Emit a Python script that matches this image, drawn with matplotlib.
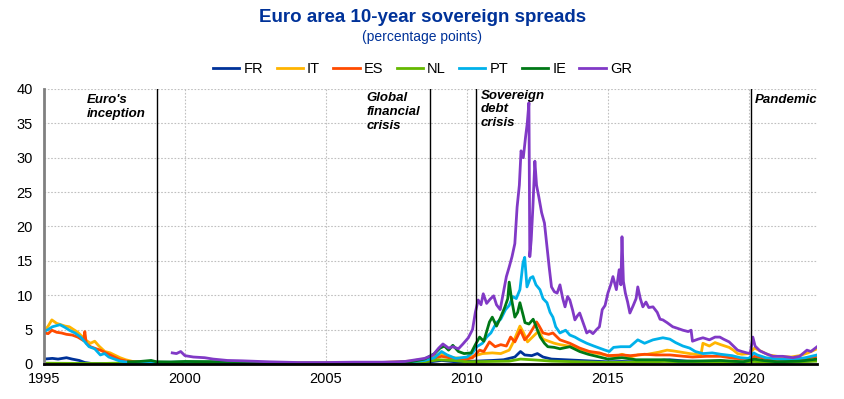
import matplotlib
matplotlib.use("Agg")
import numpy as np
import matplotlib.pyplot as plt

plt.rcParams['font.family'] = ['Liberation Sans', 'DejaVu Sans']

# Data (decimal years, percentage points)

fr_x = [1995.0, 1995.3, 1995.5, 1995.8, 1996.0, 1996.25, 1996.45, 1996.7, 1997.0, 1998.0, 2000.0, 2005.0,
        2007.0, 2008.5, 2009.1, 2009.6, 2010.3, 2010.9, 2011.3, 2011.7, 2011.9, 2012.05, 2012.3, 2012.5,
        2012.7, 2013.0, 2013.5, 2014.0, 2014.5, 2015.0, 2015.5, 2016.0, 2016.5, 2017.2, 2017.8, 2018.5,
        2019.0, 2019.7, 2020.2, 2020.6, 2021.5, 2022.42]
fr_y = [0.7, 0.8, 0.7, 0.9, 0.7, 0.5, 0.2, 0.05, 0.05, 0.05, 0.05, 0.02,
        0.05, 0.2, 0.5, 0.3, 0.4, 0.5, 0.6, 1.0, 1.8, 1.3, 1.2, 1.5,
        1.0, 0.7, 0.6, 0.5, 0.4, 0.3, 0.35, 0.3, 0.4, 0.6, 0.4, 0.35,
        0.4, 0.25, 0.45, 0.3, 0.3, 0.5]

it_x = [1995.0, 1995.15, 1995.28, 1995.45, 1995.6, 1995.75, 1995.9, 1996.05, 1996.2, 1996.35, 1996.5,
        1996.65, 1996.8, 1996.95, 1997.16, 1997.35, 1997.55, 1997.7, 1997.9, 1998.2, 1999.0, 2000.0,
        2001.0, 2002.0, 2003.0, 2004.0, 2005.0, 2006.0, 2007.0, 2008.0, 2008.6, 2009.1, 2009.5, 2009.9,
        2010.3, 2010.55, 2010.9, 2011.2, 2011.5, 2011.65, 2011.88, 2012.0, 2012.15, 2012.35, 2012.55,
        2012.7, 2012.9, 2013.1, 2013.3, 2013.6, 2013.9, 2014.2, 2014.5, 2014.8, 2015.0, 2015.3, 2015.5,
        2015.8, 2016.06, 2016.4, 2016.8, 2017.1, 2017.3, 2017.6, 2017.9, 2018.3, 2018.37, 2018.6, 2018.8,
        2019.0, 2019.3, 2019.45, 2019.6, 2019.75, 2020.0, 2020.2, 2020.4, 2020.7, 2021.0, 2021.5, 2021.8,
        2022.1, 2022.42]
it_y = [4.7, 5.5, 6.4, 5.9, 5.7, 5.5, 5.4, 5.0, 4.6, 4.0, 3.4,
        3.0, 3.3, 2.6, 1.8, 1.6, 1.2, 0.9, 0.6, 0.3, 0.25, 0.3,
        0.35, 0.25, 0.15, 0.15, 0.15, 0.2, 0.2, 0.4, 0.8, 1.5, 0.9, 0.8,
        1.2, 1.5, 1.6, 1.5, 2.0, 3.2, 5.5, 4.6, 3.2, 4.0, 4.8,
        3.6, 3.3, 3.0, 2.8, 2.6, 2.3, 1.9, 1.6, 1.4, 1.2, 1.1, 1.4,
        1.0, 1.3, 1.4, 1.7, 2.0, 1.9, 1.7, 1.5, 1.3, 3.0, 2.6, 3.1,
        2.8, 2.4, 2.0, 1.5, 1.4, 1.5, 2.3, 1.9, 1.3, 1.1, 1.0, 1.2,
        1.6, 2.2]

es_x = [1995.0, 1995.15, 1995.28, 1995.45, 1995.62, 1995.8, 1996.0, 1996.2, 1996.4, 1996.45, 1996.5,
        1996.65, 1996.85, 1997.0, 1997.2, 1997.4, 1997.7, 1998.0, 1998.5, 1999.0, 2000.0, 2001.0, 2002.0,
        2003.0, 2004.0, 2005.0, 2006.0, 2007.0, 2008.0, 2008.6, 2009.1, 2009.5, 2009.9, 2010.2, 2010.45,
        2010.6, 2010.8, 2011.0, 2011.2, 2011.4, 2011.55, 2011.7, 2011.9, 2012.05, 2012.2, 2012.35, 2012.47,
        2012.55, 2012.7, 2012.9, 2013.05, 2013.3, 2013.65, 2014.0, 2014.35, 2014.7, 2015.0, 2015.5, 2015.8,
        2016.3, 2016.7, 2017.2, 2017.7, 2018.0, 2018.5, 2019.0, 2019.5, 2020.0, 2020.2, 2020.6, 2021.0,
        2021.5, 2022.0, 2022.42]
es_y = [4.5, 4.4, 4.9, 4.6, 4.5, 4.3, 4.2, 3.9, 3.4, 4.7, 3.0,
        2.5, 2.2, 2.0, 1.6, 1.2, 0.6, 0.35, 0.25, 0.2, 0.2, 0.2, 0.1,
        0.05, 0.05, 0.05, 0.05, 0.1, 0.3, 0.6, 1.1, 0.8, 0.6, 0.9, 2.0,
        1.8, 3.2, 2.5, 2.8, 2.6, 3.9, 3.2, 4.9, 3.5, 4.2, 5.2, 6.1,
        5.6, 4.5, 4.3, 4.5, 3.5, 3.0, 2.3, 1.8, 1.6, 1.2, 1.3, 1.2,
        1.4, 1.3, 1.3, 1.1, 1.0, 1.1, 1.1, 0.8, 0.7, 1.1, 0.8, 0.6,
        0.6, 0.8, 1.1]

nl_x = [1995.0, 1997.0, 1998.0, 2000.0, 2003.0, 2007.0, 2008.5, 2009.0, 2009.5, 2010.0, 2010.8, 2011.5,
        2011.9, 2012.5, 2013.0, 2014.0, 2015.0, 2016.0, 2017.0, 2018.0, 2019.0, 2020.2, 2021.0, 2022.42]
nl_y = [0.1, 0.05, 0.15, 0.15, 0.1, 0.1, 0.3, 0.6, 0.5, 0.3, 0.35, 0.4,
        0.7, 0.55, 0.4, 0.3, 0.2, 0.25, 0.35, 0.3, 0.2, 0.35, 0.2, 0.4]

pt_x = [1995.0, 1995.15, 1995.3, 1995.57, 1995.75, 1995.9, 1996.1, 1996.3, 1996.45, 1996.6, 1996.8,
        1997.0, 1997.15, 1997.3, 1997.5, 1997.7, 1998.05, 1998.5, 1999.0, 2000.0, 2001.0, 2002.0, 2003.0,
        2004.0, 2005.0, 2006.0, 2007.0, 2008.0, 2008.5, 2008.85, 2009.1, 2009.3, 2009.6, 2010.0, 2010.2,
        2010.35, 2010.55, 2010.7, 2010.85, 2011.05, 2011.2, 2011.37, 2011.5, 2011.63, 2011.75, 2011.88,
        2011.99, 2012.05, 2012.13, 2012.25, 2012.34, 2012.45, 2012.59, 2012.7, 2012.84, 2012.95, 2013.05,
        2013.15, 2013.3, 2013.5, 2013.65, 2013.83, 2014.0, 2014.25, 2014.5, 2014.7, 2014.9, 2015.05,
        2015.2, 2015.45, 2015.78, 2016.06, 2016.3, 2016.6, 2016.95, 2017.2, 2017.4, 2017.66, 2017.9,
        2018.1, 2018.37, 2018.7, 2019.0, 2019.4, 2019.7, 2020.0, 2020.17, 2020.3, 2020.6, 2021.0, 2021.5,
        2022.0, 2022.42]
pt_y = [4.7, 5.0, 5.4, 5.7, 5.3, 4.9, 4.5, 3.9, 3.2, 2.5, 2.2,
        1.3, 1.5, 1.0, 0.7, 0.4, 0.2, 0.25, 0.25, 0.3, 0.3, 0.2, 0.15,
        0.1, 0.1, 0.1, 0.15, 0.3, 0.5, 0.9, 1.8, 1.3, 0.8, 1.0, 1.6,
        2.5, 3.0, 3.9, 4.5, 6.0, 6.5, 7.9, 8.5, 9.8, 9.5, 10.8,
        14.7, 15.5, 11.2, 12.5, 12.7, 11.5, 10.8, 9.5, 8.9, 7.5, 6.8,
        5.4, 4.5, 4.9, 4.2, 3.9, 3.5, 3.0, 2.6, 2.3, 2.0, 1.8,
        2.4, 2.5, 2.5, 3.5, 3.0, 3.5, 3.8, 3.6, 3.1, 2.6, 2.3,
        1.8, 1.5, 1.6, 1.4, 1.2, 0.9, 0.8, 1.6, 1.3, 0.9, 0.7, 0.6,
        0.9, 1.3]

ie_x = [1998.0, 1998.4, 1998.8, 1999.0, 1999.5, 2000.0, 2001.0, 2002.0, 2003.0, 2004.0, 2005.0, 2006.0,
        2007.0, 2008.0, 2008.5, 2008.85, 2009.05, 2009.2, 2009.35, 2009.5, 2009.7, 2009.9, 2010.15, 2010.3,
        2010.45, 2010.6, 2010.8, 2010.9, 2011.05, 2011.2, 2011.35, 2011.45, 2011.5, 2011.58, 2011.7, 2011.8,
        2011.88, 2012.0, 2012.06, 2012.2, 2012.35, 2012.45, 2012.6, 2012.75, 2012.87, 2013.1, 2013.3,
        2013.65, 2014.0, 2014.3, 2014.7, 2015.0, 2015.5, 2016.0, 2016.5, 2017.0, 2017.5, 2018.0, 2019.0,
        2019.8, 2020.2, 2020.5, 2021.0, 2021.8, 2022.42]
ie_y = [0.3, 0.35, 0.5, 0.3, 0.25, 0.35, 0.3, 0.2, 0.1, 0.05, 0.05, 0.05,
        0.1, 0.3, 0.7, 1.5, 2.3, 2.6, 2.0, 2.7, 1.8, 1.5, 1.6, 2.8,
        3.9, 3.3, 6.1, 6.8, 5.5, 6.8, 8.3, 9.5, 11.9, 9.5, 6.8, 7.5,
        8.9, 7.0, 6.0, 5.8, 6.5, 5.5, 3.9, 3.0, 2.5, 2.4, 2.2,
        2.5, 1.8, 1.4, 1.0, 0.7, 0.9, 0.6, 0.6, 0.6, 0.4, 0.4, 0.5,
        0.3, 0.7, 0.5, 0.3, 0.4, 0.7]

gr_x = [1999.55, 1999.7, 1999.85, 2000.0, 2000.3, 2000.7, 2001.0, 2001.5, 2002.0, 2003.0, 2004.0, 2005.0,
        2006.0, 2007.0, 2007.8, 2008.2, 2008.5, 2008.8, 2009.0, 2009.15, 2009.35, 2009.5, 2009.7, 2009.86,
        2010.05, 2010.2, 2010.3, 2010.4, 2010.5, 2010.58, 2010.7, 2010.82, 2010.95, 2011.05, 2011.18,
        2011.3, 2011.4, 2011.5, 2011.6, 2011.7, 2011.78, 2011.86, 2011.92, 2012.0, 2012.08, 2012.14,
        2012.2, 2012.23, 2012.28, 2012.34, 2012.41, 2012.47, 2012.55, 2012.65, 2012.75, 2012.84, 2012.92,
        2013.0, 2013.1, 2013.2, 2013.3, 2013.4, 2013.48, 2013.57, 2013.65, 2013.75, 2013.83, 2013.92,
        2014.0, 2014.12, 2014.25, 2014.35, 2014.47, 2014.6, 2014.7, 2014.8, 2014.9, 2015.0, 2015.1,
        2015.18, 2015.3, 2015.4, 2015.46, 2015.5, 2015.55, 2015.62, 2015.7, 2015.78, 2015.9, 2016.0,
        2016.06, 2016.15, 2016.24, 2016.35, 2016.45, 2016.6, 2016.75, 2016.85, 2016.95, 2017.1, 2017.3,
        2017.45, 2017.66, 2017.85, 2017.95, 2018.0, 2018.2, 2018.37, 2018.6, 2018.8, 2018.97, 2019.1,
        2019.3, 2019.45, 2019.6, 2019.75, 2019.93, 2020.05, 2020.14, 2020.22, 2020.39, 2020.6, 2020.85,
        2021.2, 2021.56, 2021.8, 2022.06, 2022.2, 2022.42]
gr_y = [1.6, 1.5, 1.8, 1.2, 1.0, 0.9, 0.7, 0.5, 0.45, 0.3, 0.2, 0.2,
        0.25, 0.25, 0.35, 0.6, 0.8, 1.3, 2.3, 2.9, 2.3, 2.5, 2.2, 2.9,
        3.8, 5.0, 7.5, 9.3, 8.6, 10.2, 8.8, 9.4, 9.9, 8.6, 7.9,
        10.5, 12.7, 14.1, 15.6, 17.5, 22.8, 26.0, 31.0, 30.0, 33.0, 35.0,
        38.0, 15.6, 18.0, 22.8, 29.5, 26.0, 24.3, 22.0, 20.5, 17.0, 14.0,
        11.2, 10.5, 10.3, 11.5, 9.5, 8.3, 9.8, 9.3, 7.8, 6.4, 7.0,
        7.4, 6.0, 4.5, 4.8, 4.4, 5.0, 5.4, 7.9, 8.5, 10.3, 11.5,
        12.7, 10.8, 13.7, 11.5, 18.5, 12.0, 10.3, 9.0, 7.4, 8.5, 9.5,
        11.2, 9.5, 8.3, 9.0, 8.2, 8.3, 7.5, 6.5, 6.4, 6.0, 5.4,
        5.2, 4.9, 4.7, 4.9, 3.3, 3.6, 3.8, 3.5, 3.9, 3.9, 3.6,
        3.2, 2.6, 2.0, 1.8, 1.6, 1.5, 3.9, 2.6, 1.9, 1.5, 1.1,
        1.1, 0.9, 1.1, 2.0, 1.8, 2.5]

labels = ['FR', 'IT', 'ES', 'NL', 'PT', 'IE', 'GR']
colors = ['#003299', '#FFB400', '#FF4B00', '#65B800', '#00B1EA', '#007816', '#8139C6']
series = [(fr_x, fr_y), (it_x, it_y), (es_x, es_y), (nl_x, nl_y),
          (pt_x, pt_y), (ie_x, ie_y), (gr_x, gr_y)]

events = [1999.0, 2008.69, 2010.32, 2020.07]
event_text = ["Euro's\ninception", "Global\nfinancial\ncrisis", "Sovereign\ndebt\ncrisis", "Pandemic"]
event_text_x = [1996.52, 2006.45, 2010.5, 2020.2]
event_text_y = [39.3, 39.5, 39.9, 39.3]

# Plot

fig = plt.figure(figsize=(8.45, 3.99), dpi=100)
ax = fig.add_axes([0.052, 0.088, 0.915, 0.689])

for (x, y), lab, c in zip(series, labels, colors):
    ax.plot(x, y, color=c, lw=2.0, label=lab)

for ev in events:
    ax.axvline(ev, color='black', lw=1.0, zorder=5)

for t, tx, ty in zip(event_text, event_text_x, event_text_y):
    ax.text(tx, ty, t, fontsize=9.5, fontweight='bold', fontstyle='italic',
            va='top', ha='left', linespacing=1.2, zorder=6)

ax.set_xlim(1995.0, 2022.42)
ax.set_ylim(0, 40)
ax.set_xticks([1995, 2000, 2005, 2010, 2015, 2020])
ax.set_yticks(np.arange(0, 41, 5))
ax.tick_params(axis='both', labelsize=10.5, length=0)
ax.tick_params(axis='x', pad=6)
ax.tick_params(axis='y', pad=8)
ax.grid(True, color='#c0c0c0', linestyle=(0, (1.5, 1.5)), lw=0.8)
ax.set_axisbelow(True)

ax.spines['top'].set_visible(False)
ax.spines['right'].set_visible(False)
ax.spines['left'].set_color('#808080')
ax.spines['left'].set_linewidth(2)
ax.spines['bottom'].set_color('black')
ax.spines['bottom'].set_linewidth(2)
ax.spines['bottom'].set_zorder(7)

fig.text(0.5, 0.955, 'Euro area 10-year sovereign spreads', ha='center', va='center',
         fontsize=13.5, fontweight='bold', color='#003299')
fig.text(0.5, 0.907, '(percentage points)', ha='center', va='center',
         fontsize=10, color='#003299')

fig.legend(loc='center', bbox_to_anchor=(0.5, 0.828), ncol=7, frameon=False, fontsize=10.5,
           handlelength=1.8, handletextpad=0.3, columnspacing=0.9)

fig.savefig('out.png', dpi=100)
